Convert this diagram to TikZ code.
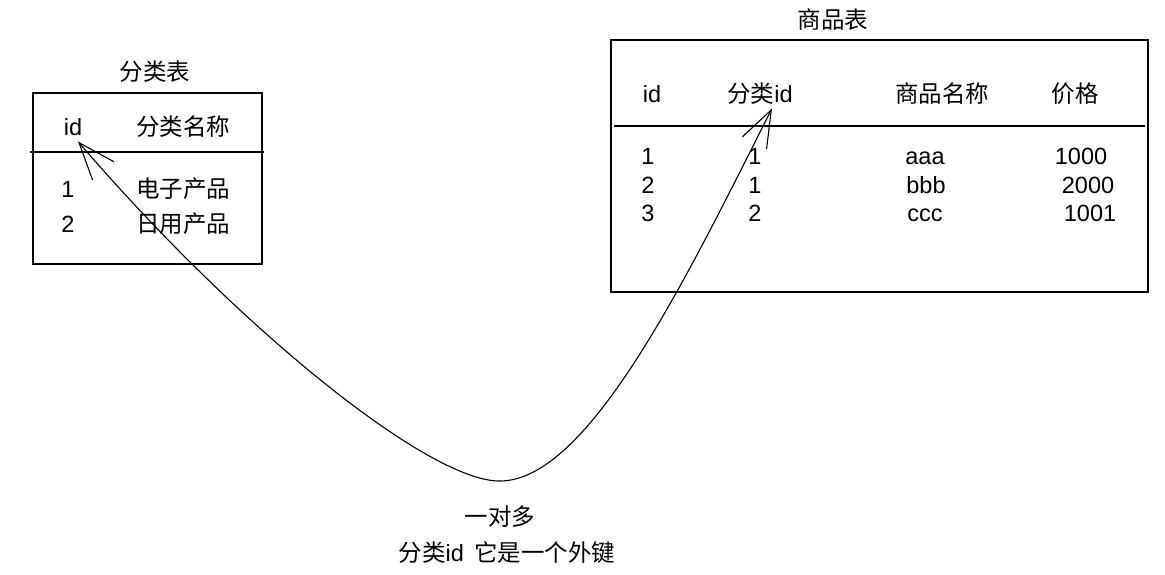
\documentclass[tikz,border=0pt]{standalone}
\usepackage{fontspec}
\setmainfont{Liberation Sans}
\newfontfamily\cjk{Noto Sans CJK SC}
\usetikzlibrary{arrows.meta}

\begin{document}
\begin{tikzpicture}[x=1pt,y=-1pt,font=\fontsize{23.5}{28}\selectfont,line width=1.3pt,
	cell/.style={text height=17pt,text depth=2pt}]
	\useasboundingbox (0,0) rectangle (1165,574);
	% category table
	\draw (33,93) rectangle (262,264);
	\draw (30,152) -- (264,152);
	\node(cattitle)[] at (155,72) {\cjk 分类表};
	\node(catid)[cell] at (73,128) {id};
	\node(catname)[cell] at (183,128) {\cjk 分类名称};
	\node(catrowa)[cell] at (68,190) {1};
	\node(catrowb)[cell] at (68,225) {2};
	\node(catnamea)[cell] at (183,190) {\cjk 电子产品};
	\node(catnameb)[cell] at (183,225) {\cjk 日用产品};
	% product table
	\draw (611,40) rectangle (1148,292);
	\draw (614,126) -- (1145,126);
	\node(prodtitle)[] at (833,20) {\cjk 商品表};
	\node(prodid)[cell] at (652,95) {id};
	\node(prodcid)[cell] at (760,95) {{\cjk 分类}id};
	\node(prodname)[cell] at (942,95) {\cjk 商品名称};
	\node(prodprice)[cell] at (1075,95) {\cjk 价格};
	\node(prodrowa)[cell] at (648,157) {1};
	\node(prodrowb)[cell] at (648,186) {2};
	\node(prodrowc)[cell] at (648,214) {3};
	\node(prodcida)[cell] at (755,157) {1};
	\node(prodcidb)[cell] at (755,186) {1};
	\node(prodcidc)[cell] at (755,214) {2};
	\node(prodnamea)[cell] at (925,157) {aaa};
	\node(prodnameb)[cell] at (926,186) {bbb};
	\node(prodnamec)[cell] at (925,214) {ccc};
	\node(prodpricea)[cell] at (1081,157) {1000};
	\node(prodpriceb)[cell] at (1088,186) {2000};
	\node(prodpricec)[cell] at (1090,214) {1001};
	% one-to-many link
	\draw[{Straight Barb[length=37pt,width=28pt]}-{Straight Barb[length=37pt,width=27pt]}, line width=1.1pt]
		([xshift=5pt]catid.south) .. controls (240,330) and (430,482) .. (500,481)
		.. controls (590,481) and (690,270) .. ([xshift=12pt]prodcid.south);
	\node(relation)[] at (500,517) {\cjk 一对多};
	\node(fknote)[] at (507,553) {{\cjk 分类}id\ \,{\cjk 它是一个外键}};
\end{tikzpicture}
\end{document}
